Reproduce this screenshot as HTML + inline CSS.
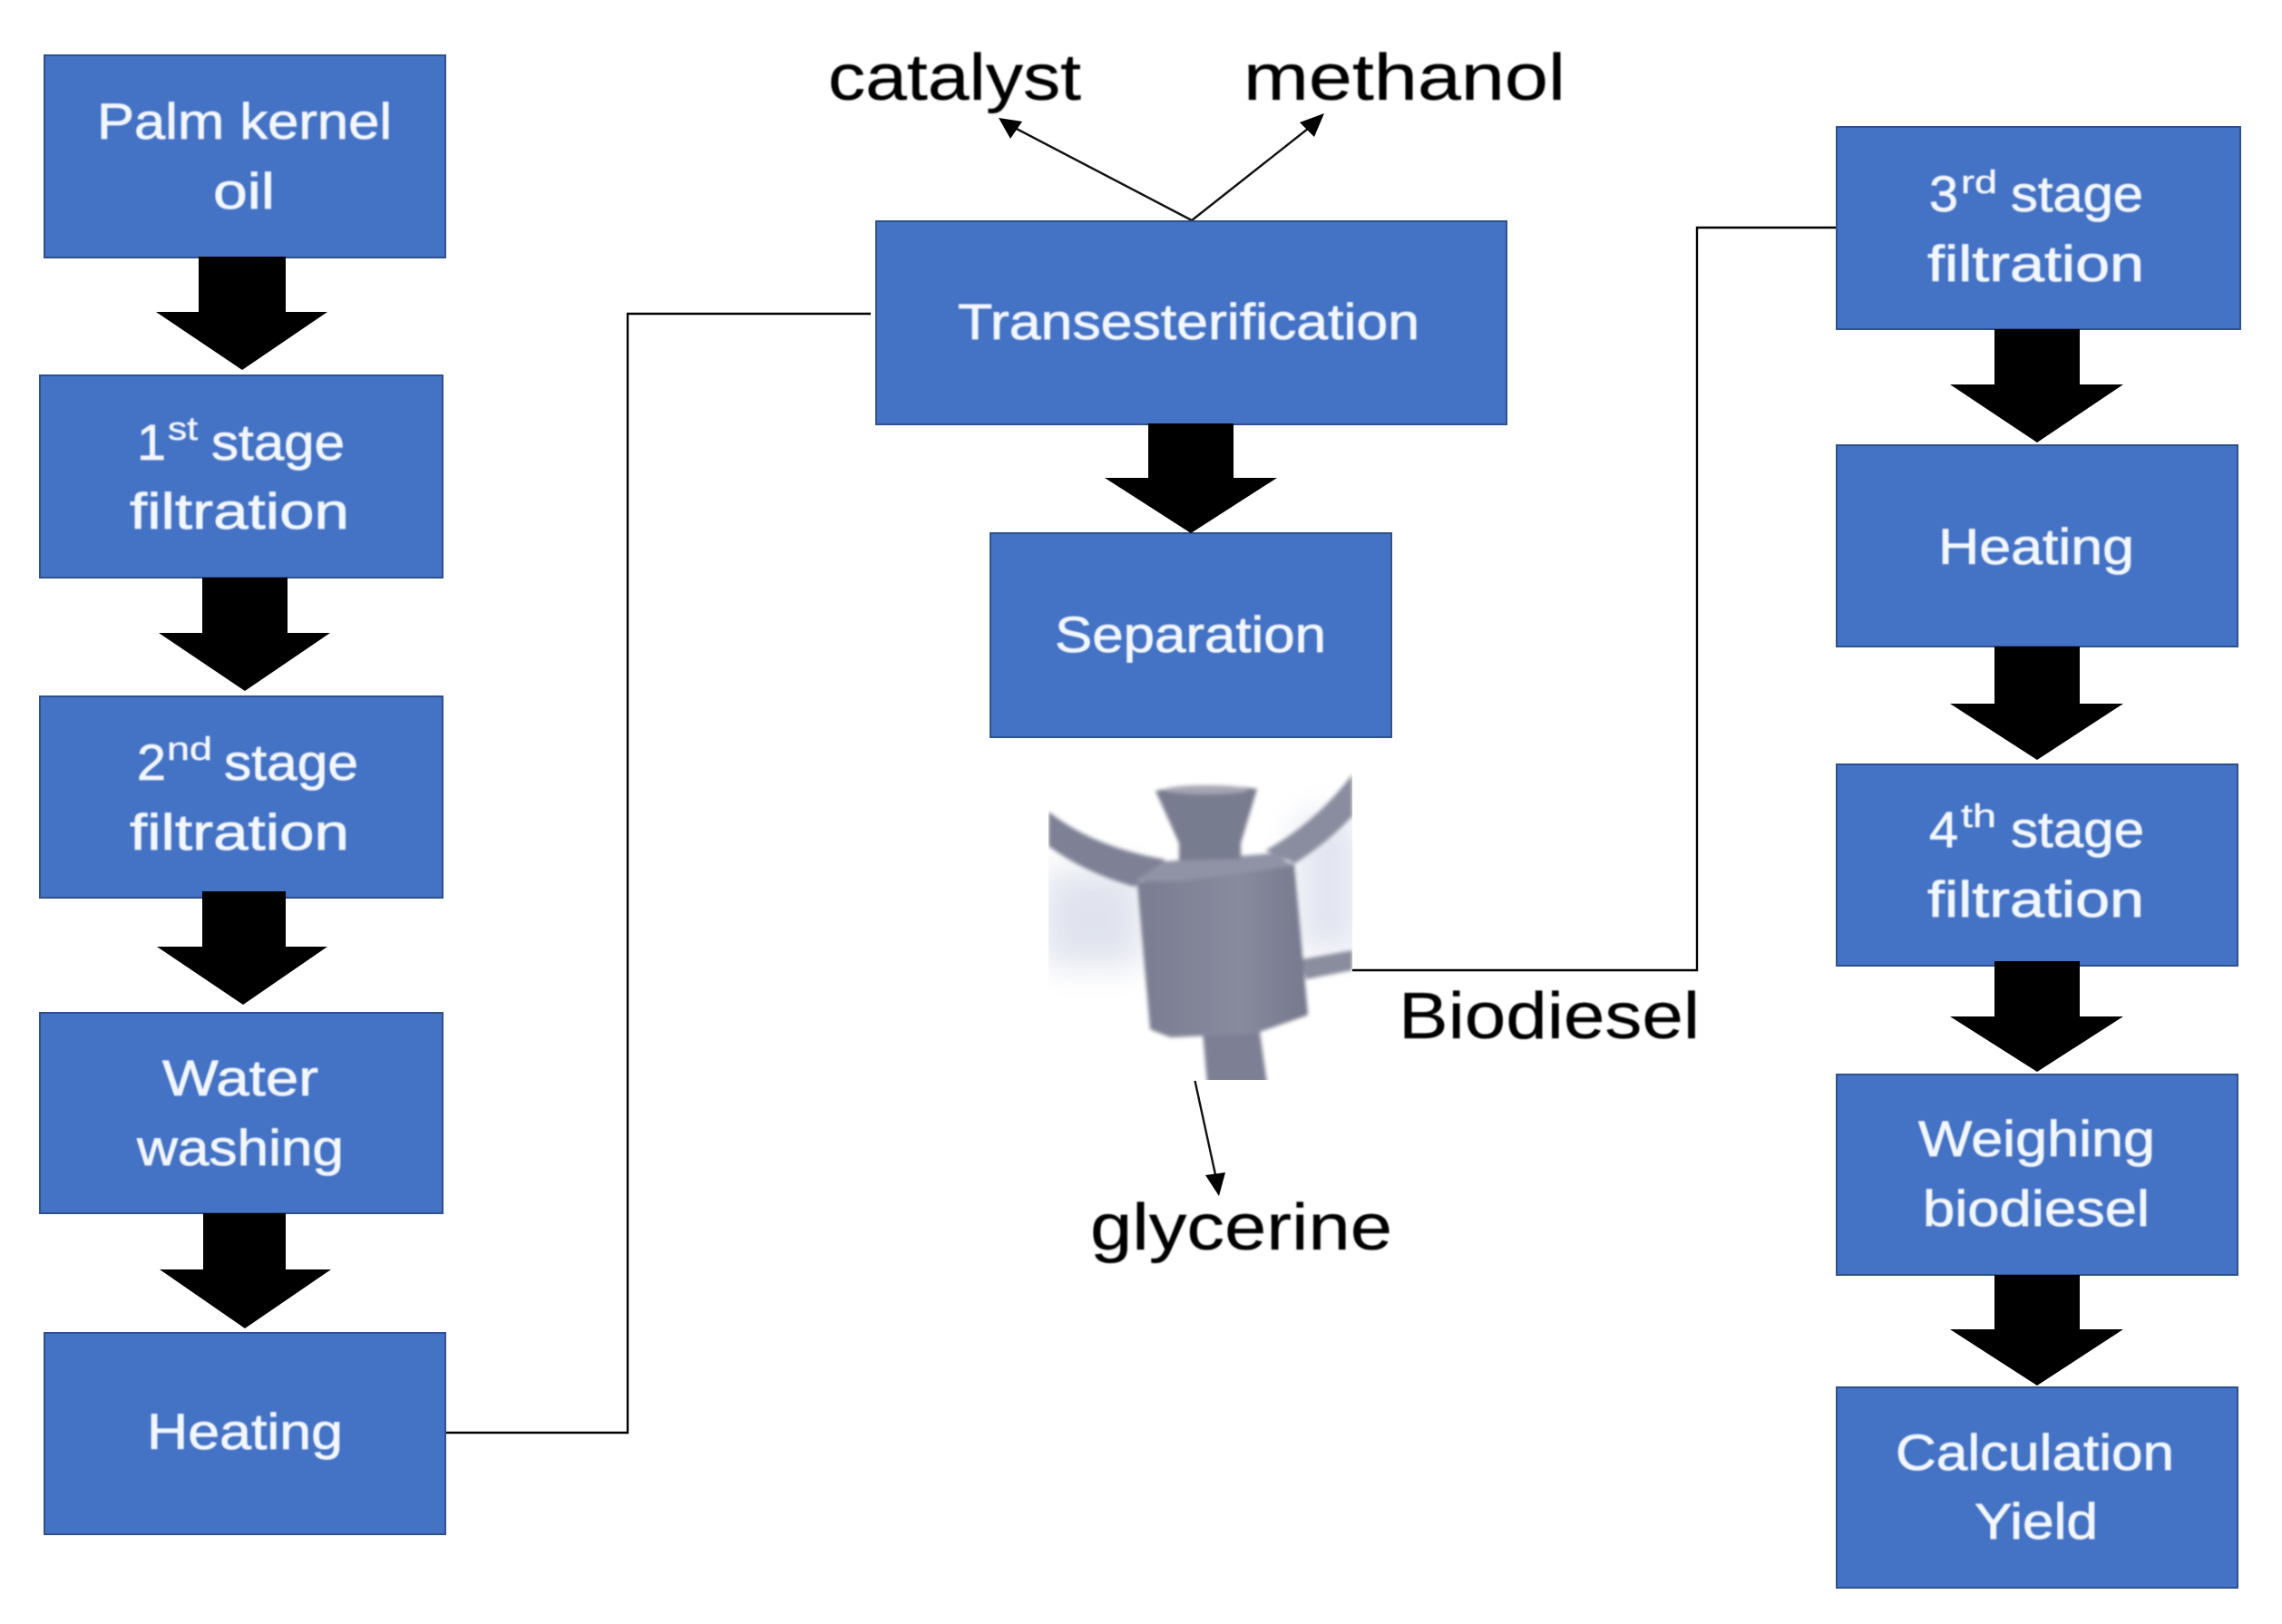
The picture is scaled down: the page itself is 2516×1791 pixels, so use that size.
<!DOCTYPE html>
<html><head><meta charset="utf-8"><style>
html,body{margin:0;padding:0;background:#fff}
svg{display:block}
.w{font-family:"Liberation Sans",sans-serif;font-size:56px;fill:#f2f6ff;stroke:#f2f6ff;stroke-width:.8}
.s{font-family:"Liberation Sans",sans-serif;font-size:36px;fill:#f2f6ff;stroke:#f2f6ff;stroke-width:.5}
.k{font-family:"Liberation Sans",sans-serif;font-size:72px;fill:#000;stroke:#000;stroke-width:.3}
rect.b{fill:#4472c4;stroke:#2f528f;stroke-width:2}
</style></head><body>
<svg xmlns="http://www.w3.org/2000/svg" width="2516" height="1791" viewBox="0 0 2516 1791">
<defs>
<filter id="soft" x="-2%" y="-2%" width="104%" height="104%"><feGaussianBlur stdDeviation="0.7"/></filter>
<filter id="pic" x="-5%" y="-5%" width="110%" height="110%"><feGaussianBlur stdDeviation="2"/></filter>
<filter id="bg" x="-30%" y="-30%" width="160%" height="160%"><feGaussianBlur stdDeviation="18"/></filter>
<clipPath id="pc"><rect x="1156" y="840" width="335" height="351"/></clipPath>
<linearGradient id="cyl" x1="0" x2="1" y1="0" y2="0"><stop offset="0" stop-color="#7a7d91"/><stop offset=".6" stop-color="#888b9e"/><stop offset="1" stop-color="#76798d"/></linearGradient>
</defs>

<!-- picture -->
<g clip-path="url(#pc)">
<g filter="url(#bg)">
<rect x="1150" y="960" width="110" height="105" fill="#e0e3ee"/>
<rect x="1430" y="900" width="70" height="150" fill="#e2e5f0"/>
</g>
<g filter="url(#pic)">
<path d="M1156 895Q1205 934 1285 948L1251 978Q1195 962 1156 933Z" fill="#7e8195"/>
<path d="M1491 854Q1450 908 1395 938L1428 952Q1465 928 1491 900Z" fill="#8a8d9f"/>
<path d="M1491 1048L1435 1058L1440 1080L1491 1070Z" fill="#8a8d9e"/>
<path d="M1326 1138L1389 1138L1397 1195L1331 1195Z" fill="#7d8094"/>
<path d="M1256 975L1425 954L1440 1118L1383 1138L1291 1142L1270 1134Z" fill="url(#cyl)" stroke="url(#cyl)" stroke-width="4" stroke-linejoin="round"/>
<path d="M1251 972L1283 950L1406 941L1426 955L1300 972Z" fill="#9093a5"/>
<path d="M1274 872Q1330 862 1386 870L1368 930L1368 947L1300 949L1300 930Z" fill="#787b8f"/>
<ellipse cx="1330" cy="871" rx="46" ry="5" fill="#a4a6b2"/>
</g>
</g>

<!-- connectors -->
<g fill="none" stroke="#000" stroke-width="2.4">
<path d="M492 1580H692V346H960"/>
<path d="M1491 1070H1871V251H2024"/>
</g>
<g stroke="#111" stroke-width="2.4" fill="none">
<path d="M1314 243L1115 139"/>
<path d="M1314 243L1447 138"/>
<path d="M1317.5 1192L1341 1300"/>
</g>
<g fill="#000">
<polygon points="1101,130 1127,134 1114,153"/>
<polygon points="1460,125 1449,151 1433,135"/>
<polygon points="1344,1319 1329,1296 1351,1293"/>
</g>

<!-- boxes -->
<rect class="b" x="49" y="61" width="442" height="223"/>
<rect class="b" x="44" y="414" width="444" height="223"/>
<rect class="b" x="44" y="768" width="444" height="222"/>
<rect class="b" x="44" y="1117" width="444" height="221"/>
<rect class="b" x="49" y="1470" width="442" height="222"/>
<rect class="b" x="966" y="244" width="695" height="224"/>
<rect class="b" x="1092" y="588" width="442" height="225"/>
<rect class="b" x="2025" y="140" width="445" height="223"/>
<rect class="b" x="2025" y="491" width="442" height="222"/>
<rect class="b" x="2025" y="843" width="442" height="222"/>
<rect class="b" x="2025" y="1185" width="442" height="221"/>
<rect class="b" x="2025" y="1530" width="442" height="221"/>

<!-- block arrows -->
<g fill="#000">
<polygon points="219,283 315,283 315,344 361,344 267,408 172,344 219,344"/>
<polygon points="223,637 317,637 317,698 364,698 270,762 175,698 223,698"/>
<polygon points="223,983 315,983 315,1044 361,1044 268,1108 173,1044 223,1044"/>
<polygon points="224,1338 315,1338 315,1400 365,1400 270,1465 176,1400 224,1400"/>
<polygon points="1266,467 1360,467 1360,527 1408,527 1313,588 1218,527 1266,527"/>
<polygon points="2199,363 2293,363 2293,424 2341,424 2246,488 2150,424 2199,424"/>
<polygon points="2199,713 2293,713 2293,776 2341,776 2246,838 2150,776 2199,776"/>
<polygon points="2199,1060 2293,1060 2293,1121 2341,1121 2246,1182 2150,1121 2199,1121"/>
<polygon points="2199,1406 2293,1406 2293,1466 2341,1466 2246,1528 2150,1466 2199,1466"/>
</g>

<!-- text -->
<g filter="url(#soft)">
<text class="w" x="107" y="153" textLength="325" lengthAdjust="spacingAndGlyphs">Palm kernel</text>
<text class="w" x="235" y="230" textLength="68" lengthAdjust="spacingAndGlyphs">oil</text>

<text class="w" x="151" y="507" textLength="32" lengthAdjust="spacingAndGlyphs">1</text>
<text class="s" x="185" y="485" textLength="33" lengthAdjust="spacingAndGlyphs">st</text>
<text class="w" x="233" y="507" textLength="147" lengthAdjust="spacingAndGlyphs">stage</text>
<text class="w" x="143" y="583" textLength="242" lengthAdjust="spacingAndGlyphs">filtration</text>

<text class="w" x="151" y="860" textLength="32" lengthAdjust="spacingAndGlyphs">2</text>
<text class="s" x="184" y="838" textLength="50" lengthAdjust="spacingAndGlyphs">nd</text>
<text class="w" x="247" y="860" textLength="148" lengthAdjust="spacingAndGlyphs">stage</text>
<text class="w" x="143" y="937" textLength="242" lengthAdjust="spacingAndGlyphs">filtration</text>

<text class="w" x="179" y="1208" textLength="172" lengthAdjust="spacingAndGlyphs">Water</text>
<text class="w" x="151" y="1285" textLength="228" lengthAdjust="spacingAndGlyphs">washing</text>

<text class="w" x="162" y="1598" textLength="216" lengthAdjust="spacingAndGlyphs">Heating</text>

<text class="w" x="1056" y="374" textLength="509" lengthAdjust="spacingAndGlyphs">Transesterification</text>
<text class="w" x="1163" y="719" textLength="299" lengthAdjust="spacingAndGlyphs">Separation</text>

<text class="w" x="2127" y="233" textLength="32" lengthAdjust="spacingAndGlyphs">3</text>
<text class="s" x="2162" y="213" textLength="40" lengthAdjust="spacingAndGlyphs">rd</text>
<text class="w" x="2217" y="233" textLength="146" lengthAdjust="spacingAndGlyphs">stage</text>
<text class="w" x="2125" y="310" textLength="239" lengthAdjust="spacingAndGlyphs">filtration</text>

<text class="w" x="2137" y="622" textLength="216" lengthAdjust="spacingAndGlyphs">Heating</text>

<text class="w" x="2127" y="934" textLength="32" lengthAdjust="spacingAndGlyphs">4</text>
<text class="s" x="2162" y="912" textLength="39" lengthAdjust="spacingAndGlyphs">th</text>
<text class="w" x="2217" y="934" textLength="147" lengthAdjust="spacingAndGlyphs">stage</text>
<text class="w" x="2125" y="1011" textLength="239" lengthAdjust="spacingAndGlyphs">filtration</text>

<text class="w" x="2115" y="1275" textLength="261" lengthAdjust="spacingAndGlyphs">Weighing</text>
<text class="w" x="2120" y="1352" textLength="250" lengthAdjust="spacingAndGlyphs">biodiesel</text>

<text class="w" x="2090" y="1621" textLength="307" lengthAdjust="spacingAndGlyphs">Calculation</text>
<text class="w" x="2177" y="1697" textLength="136" lengthAdjust="spacingAndGlyphs">Yield</text>

<text class="k" x="913" y="110" textLength="279" lengthAdjust="spacingAndGlyphs">catalyst</text>
<text class="k" x="1371" y="110" textLength="355" lengthAdjust="spacingAndGlyphs">methanol</text>
<text class="k" x="1542" y="1145" textLength="332" lengthAdjust="spacingAndGlyphs">Biodiesel</text>
<text class="k" x="1202" y="1378" textLength="333" lengthAdjust="spacingAndGlyphs">glycerine</text>
</g>
</svg>
</body></html>
